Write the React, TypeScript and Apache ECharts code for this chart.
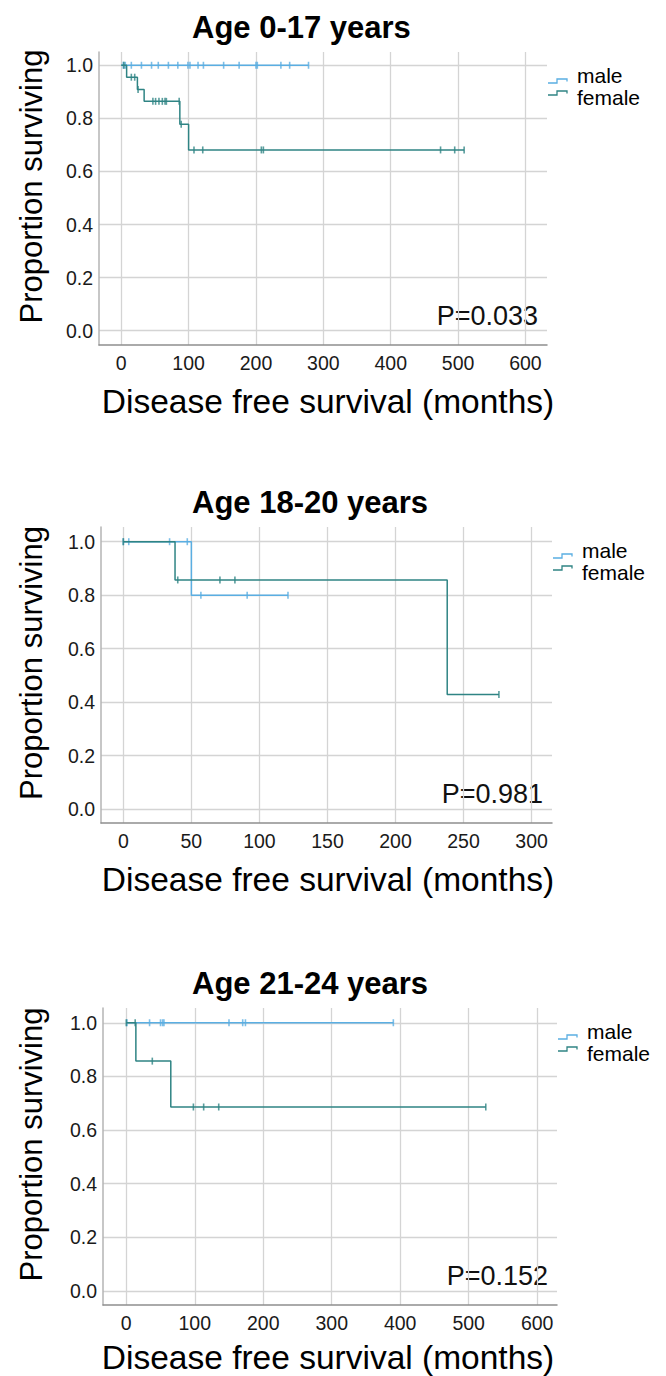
import React, { useEffect, useRef } from "react";
import * as echarts from "echarts";

const FONT = "'Liberation Sans', Arial, Helvetica, sans-serif";
const MALE_COLOR = "#5aaee2";
const FEMALE_COLOR = "#2f8484";

const titles = ["Age 0-17 years", "Age 18-20 years", "Age 21-24 years"];
const pValueLabels = ["P=0.033", "P=0.981", "P=0.152"];
const groupNames = ["male", "female"];
const yAxisName = "Proportion surviving";
const xAxisName = "Disease free survival (months)";

const yTickValues = [0, 0.2, 0.4, 0.6, 0.8, 1.0];
const xTicksA = [0, 100, 200, 300, 400, 500, 600];
const xTicksB = [0, 50, 100, 150, 200, 250, 300];
const xTicksC = [0, 100, 200, 300, 400, 500, 600];

// Panel A (0-17 years): [months, proportion surviving]
const maleCurveA = [[0, 1], [278, 1]];
const maleCensorA = [
  [3, 1], [6, 1], [15, 1], [30, 1], [45, 1], [55, 1], [70, 1], [84, 1], [99, 1], [102, 1],
  [114, 1], [122, 1], [152, 1], [175, 1], [200, 1], [202, 1], [237, 1], [250, 1], [278, 1],
];
const femaleCurveA = [[0, 1], [8, 0.955], [24, 0.909], [34, 0.864], [87, 0.778], [100, 0.681], [509, 0.681]];
const femaleCensorA = [
  [4, 1], [15, 0.955], [20, 0.955], [25, 0.909], [47, 0.864], [51, 0.864], [56, 0.864],
  [61, 0.864], [65, 0.864], [67, 0.864], [86, 0.864], [89, 0.778], [108, 0.681], [121, 0.681],
  [208, 0.681], [211, 0.681], [474, 0.681], [495, 0.681], [509, 0.681],
];

// Panel B (18-20 years)
const maleCurveB = [[0, 1], [50, 0.8], [121, 0.8]];
const maleCensorB = [[0, 1], [4, 1], [34, 1], [47, 1], [57, 0.8], [91, 0.8], [121, 0.8]];
const femaleCurveB = [[0, 1], [38, 0.857], [238, 0.429], [276, 0.429]];
const femaleCensorB = [[0, 1], [40, 0.857], [71, 0.857], [82, 0.857], [276, 0.429]];

// Panel C (21-24 years)
const maleCurveC = [[0, 1], [390, 1]];
const maleCensorC = [[1, 1], [34, 1], [50, 1], [53, 1], [55, 1], [150, 1], [170, 1], [174, 1], [390, 1]];
const femaleCurveC = [[0, 1], [14, 0.857], [65, 0.686], [525, 0.686]];
const femaleCensorC = [[0, 1], [13, 1], [38, 0.857], [98, 0.686], [113, 0.686], [135, 0.686], [525, 0.686]];

const panels = [
  {
    title: titles[0], p: pValueLabels[0], xTicks: xTicksA,
    male: maleCurveA, maleC: maleCensorA, female: femaleCurveA, femaleC: femaleCensorA,
    grid: { left: 99, top: 52, width: 448, height: 293 }, xMin: -33, xMax: 632,
    yMin: -0.054, yMax: 1.05, nameY: 401,
  },
  {
    title: titles[1], p: pValueLabels[1], xTicks: xTicksB,
    male: maleCurveB, maleC: maleCensorB, female: femaleCurveB, femaleC: femaleCensorB,
    grid: { left: 101, top: 527, width: 451, height: 296 }, xMin: -16.4, xMax: 315,
    yMin: -0.052, yMax: 1.055, nameY: 879,
  },
  {
    title: titles[2], p: pValueLabels[2], xTicks: xTicksC,
    male: maleCurveC, maleC: maleCensorC, female: femaleCurveC, femaleC: femaleCensorC,
    grid: { left: 103, top: 1008, width: 454, height: 297 }, xMin: -34, xMax: 629,
    yMin: -0.052, yMax: 1.055, nameY: 1357,
  },
];

export default function App() {
  const ref = useRef<HTMLDivElement>(null);
  useEffect(() => {
    document.body.style.margin = "0";
    if (!ref.current) return;
    const chart = echarts.init(ref.current, undefined, { renderer: "svg" });

    const grids: any[] = [];
    const xAxes: any[] = [];
    const yAxes: any[] = [];
    const series: any[] = [];
    const graphics: any[] = [];

    panels.forEach((pn, i) => {
      const g = pn.grid;
      grids.push({ left: g.left, top: g.top, width: g.width, height: g.height, containLabel: false });
      xAxes.push({
        gridIndex: i, type: "value", min: pn.xMin, max: pn.xMax,
        axisLine: { show: true, onZero: false, lineStyle: { color: "#8e8e8e", width: 1.5 } },
        axisTick: { show: false, customValues: pn.xTicks },
        axisLabel: { customValues: pn.xTicks, fontSize: 19.5, color: "#1a1a1a", margin: 8, fontFamily: FONT },
        splitLine: { show: true, lineStyle: { color: "#d4d4d4", width: 1.3 } },
      });
      yAxes.push({
        gridIndex: i, type: "value", min: pn.yMin, max: pn.yMax,
        axisLine: { show: true, onZero: false, lineStyle: { color: "#b4b4b4", width: 1.5 } },
        axisTick: { show: false, customValues: yTickValues },
        axisLabel: {
          customValues: yTickValues, fontSize: 19.5, color: "#1a1a1a", margin: 6, fontFamily: FONT,
          formatter: (v: number) => v.toFixed(1),
        },
        splitLine: { show: true, lineStyle: { color: "#d4d4d4", width: 1.3 } },
      });
      series.push(
        { type: "line", xAxisIndex: i, yAxisIndex: i, step: "end", data: pn.male, showSymbol: false, symbol: "none",
          lineStyle: { color: MALE_COLOR, width: 1.5 }, z: 3 },
        { type: "scatter", xAxisIndex: i, yAxisIndex: i, data: pn.maleC, symbol: "rect", symbolSize: [1.6, 7],
          itemStyle: { color: MALE_COLOR }, z: 4 },
        { type: "line", xAxisIndex: i, yAxisIndex: i, step: "end", data: pn.female, showSymbol: false, symbol: "none",
          lineStyle: { color: FEMALE_COLOR, width: 1.5 }, z: 5 },
        { type: "scatter", xAxisIndex: i, yAxisIndex: i, data: pn.femaleC, symbol: "rect", symbolSize: [1.6, 7],
          itemStyle: { color: FEMALE_COLOR }, z: 6 },
      );
      const right = g.left + g.width;
      const bottom = g.top + g.height;
      // title
      graphics.push({
        type: "text", x: 192, y: g.top - 25,
        style: { text: pn.title, fontSize: 31, fontWeight: "bold", fontFamily: FONT, fill: "#000",
          textAlign: "left", textVerticalAlign: "middle" },
      });
      // y axis name
      graphics.push({
        type: "text", x: 31, y: g.top + g.height / 2 - 12, rotation: Math.PI / 2,
        style: { text: yAxisName, fontSize: 31, fontFamily: FONT, fill: "#000",
          textAlign: "center", textVerticalAlign: "middle" },
      });
      // x axis name
      graphics.push({
        type: "text", x: 328, y: pn.nameY,
        style: { text: xAxisName, fontSize: 33.5, fontFamily: FONT, fill: "#000",
          textAlign: "center", textVerticalAlign: "middle" },
      });
      // p value
      graphics.push({
        type: "text", x: right - 9, y: bottom - 29.5,
        style: { text: pn.p, fontSize: 27, fontFamily: FONT, fill: "#111",
          textAlign: "right", textVerticalAlign: "middle" },
      });
      // legend
      const colors = [MALE_COLOR, FEMALE_COLOR];
      groupNames.forEach((nm, k) => {
        const iy = g.top + 29 + k * 12;
        const ix = right + 1;
        graphics.push({
          type: "polyline",
          shape: { points: [[ix, iy + 2], [ix + 9, iy + 2], [ix + 9, iy - 2], [ix + 19, iy - 2], [ix + 19, iy + 0.5]] },
          style: { stroke: colors[k], lineWidth: 1.3, fill: "none" },
        });
        graphics.push({
          type: "text", x: right + 30, y: g.top + 23 + k * 22,
          style: { text: nm, fontSize: 21, fontFamily: FONT, fill: "#000",
            textAlign: "left", textVerticalAlign: "middle" },
        });
      });
    });

    chart.setOption({
      animation: false,
      backgroundColor: "#ffffff",
      grid: grids,
      xAxis: xAxes,
      yAxis: yAxes,
      series,
      graphic: graphics,
    });
    return () => chart.dispose();
  }, []);
  return (
    <div ref={ref} style={{ position: "absolute", left: 0, top: 0, width: 666, height: 1376 }} />
  );
}
